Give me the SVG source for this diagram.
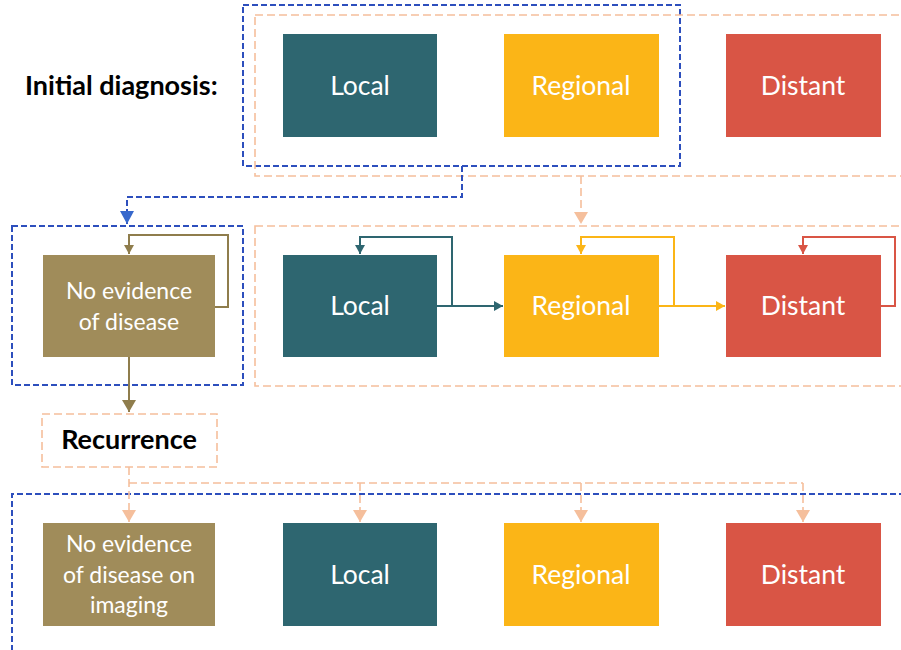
<svg xmlns="http://www.w3.org/2000/svg" width="901" height="650" viewBox="0 0 901 650">
<defs>
<style>
.bl{fill:none;stroke:#2d4fbd;stroke-width:2;stroke-dasharray:6 3}
.or{fill:none;stroke:#f5bf9c;stroke-width:1.6;stroke-dasharray:8 4}
.lbl{font-family:Lato,"Liberation Sans",sans-serif;font-size:26.5px;fill:#ffffff;text-anchor:middle}
.sm{font-family:Lato,"Liberation Sans",sans-serif;font-size:23px;fill:#ffffff;text-anchor:middle}
.hd{font-family:Lato,"Liberation Sans",sans-serif;font-size:27px;font-weight:bold;fill:#000000}
.teal{fill:#2e6670}.amb{fill:#fbb517}.red{fill:#d95545}.olv{fill:#a08c5a}
</style>
<marker id="mBlue" markerUnits="userSpaceOnUse" markerWidth="14" markerHeight="14" refX="13" refY="7" orient="auto"><path d="M0,0 L13,7 L0,14 z" fill="#3768cc"/></marker>
<marker id="mOr" markerUnits="userSpaceOnUse" markerWidth="14" markerHeight="14" refX="12" refY="7" orient="auto"><path d="M0,0 L12,7 L0,14 z" fill="#f5bf9c"/></marker>
<marker id="mTeal" markerUnits="userSpaceOnUse" markerWidth="10" markerHeight="10" refX="9" refY="5" orient="auto"><path d="M0,0 L9,5 L0,10 z" fill="#2e6670"/></marker>
<marker id="mAmb" markerUnits="userSpaceOnUse" markerWidth="10" markerHeight="10" refX="9" refY="5" orient="auto"><path d="M0,0 L9,5 L0,10 z" fill="#fbb517"/></marker>
<marker id="mRed" markerUnits="userSpaceOnUse" markerWidth="10" markerHeight="10" refX="9" refY="5" orient="auto"><path d="M0,0 L9,5 L0,10 z" fill="#d95545"/></marker>
<marker id="mOlv" markerUnits="userSpaceOnUse" markerWidth="14" markerHeight="14" refX="12" refY="7" orient="auto"><path d="M0,0 L12,7 L0,14 z" fill="#8f7d4c"/></marker>
<marker id="mOlvS" markerUnits="userSpaceOnUse" markerWidth="10" markerHeight="10" refX="9" refY="5" orient="auto"><path d="M0,0 L9,5 L0,10 z" fill="#8f7d4c"/></marker>
</defs>
<rect width="901" height="650" fill="#ffffff"/>

<g id="groups">
<rect class="bl" x="243" y="5" width="437" height="161"/>
<rect class="or" x="255" y="15" width="660" height="161"/>
<rect class="bl" x="12" y="226" width="231" height="159"/>
<rect class="or" x="255" y="226" width="660" height="160"/>
<path class="bl" d="M12,660 L12,494 L915,494"/>
</g>

<g id="label-initial"><text class="hd" x="25" y="95">Initial diagnosis:</text></g>

<g id="connectors">
<path class="bl" d="M462,166 L462,197 L127,197 L127,224" marker-end="url(#mBlue)"/>
<path class="or" d="M581,176 L581,224" marker-end="url(#mOr)"/>
<path d="M215,307 L228,307 L228,235 L129,235 L129,254" fill="none" stroke="#8f7d4c" stroke-width="2" marker-end="url(#mOlvS)"/>
<path d="M129,357 L129,412" fill="none" stroke="#8f7d4c" stroke-width="2" marker-end="url(#mOlv)"/>
<path d="M437,306 L503,306" fill="none" stroke="#2e6670" stroke-width="2" marker-end="url(#mTeal)"/>
<path d="M452,306 L452,237 L360,237 L360,254" fill="none" stroke="#2e6670" stroke-width="2" marker-end="url(#mTeal)"/>
<path d="M659,306 L725,306" fill="none" stroke="#fbb517" stroke-width="2" marker-end="url(#mAmb)"/>
<path d="M674,306 L674,237 L581,237 L581,254" fill="none" stroke="#fbb517" stroke-width="2" marker-end="url(#mAmb)"/>
<path d="M881,306 L895,306 L895,237 L803,237 L803,254" fill="none" stroke="#d95545" stroke-width="2" marker-end="url(#mRed)"/>
<path class="or" d="M129,467 L129,522" marker-end="url(#mOr)"/>
<path class="or" d="M129,483 L803,483"/>
<path class="or" d="M360,483 L360,522" marker-end="url(#mOr)"/>
<path class="or" d="M581,483 L581,522" marker-end="url(#mOr)"/>
<path class="or" d="M803,483 L803,522" marker-end="url(#mOr)"/>
</g>

<g id="init-local"><rect class="teal" x="283" y="34" width="154" height="103"/><text class="lbl" x="360" y="95">Local</text></g>
<g id="init-regional"><rect class="amb" x="504" y="34" width="155" height="103"/><text class="lbl" x="581" y="95">Regional</text></g>
<g id="init-distant"><rect class="red" x="726" y="34" width="155" height="103"/><text class="lbl" x="803" y="95">Distant</text></g>

<g id="ned"><rect class="olv" x="43" y="255" width="172" height="102"/><text class="sm" x="129" y="299">No evidence</text><text class="sm" x="129" y="330">of disease</text></g>
<g id="mid-local"><rect class="teal" x="283" y="255" width="154" height="102"/><text class="lbl" x="360" y="315">Local</text></g>
<g id="mid-regional"><rect class="amb" x="504" y="255" width="155" height="102"/><text class="lbl" x="581" y="315">Regional</text></g>
<g id="mid-distant"><rect class="red" x="726" y="255" width="155" height="102"/><text class="lbl" x="803" y="315">Distant</text></g>

<g id="recurrence"><rect class="or" x="42" y="414" width="175" height="53"/><text class="hd" x="129" y="449" text-anchor="middle" font-size="25.5">Recurrence</text></g>

<g id="rec-ned"><rect class="olv" x="43" y="523" width="172" height="103"/><text class="sm" x="129" y="552">No evidence</text><text class="sm" x="129" y="583">of disease on</text><text class="sm" x="129" y="613">imaging</text></g>
<g id="rec-local"><rect class="teal" x="283" y="523" width="154" height="103"/><text class="lbl" x="360" y="584">Local</text></g>
<g id="rec-regional"><rect class="amb" x="504" y="523" width="155" height="103"/><text class="lbl" x="581" y="584">Regional</text></g>
<g id="rec-distant"><rect class="red" x="726" y="523" width="155" height="103"/><text class="lbl" x="803" y="584">Distant</text></g>
</svg>
